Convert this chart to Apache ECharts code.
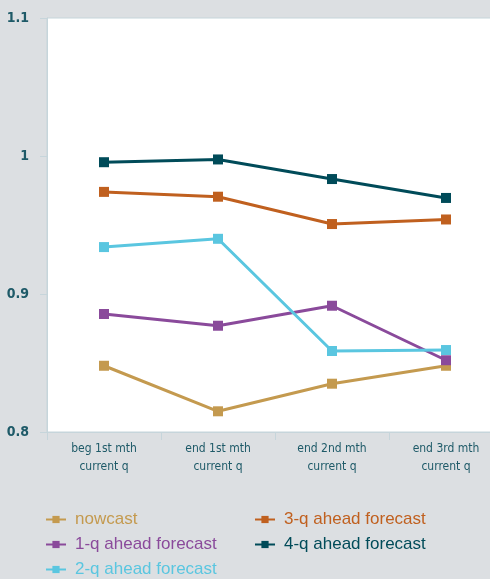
<!DOCTYPE html>
<html><head><meta charset="utf-8">
<script src="https://cdn.jsdelivr.net/npm/echarts@6/dist/echarts.min.js"></script>
<style>html,body{margin:0;padding:0;background:#dcdfe2;}#c{width:490px;height:579px;}</style>
</head><body><div id="c"></div>
<script>
const categories = ['beg 1st mth\ncurrent q', 'end 1st mth\ncurrent q', 'end 2nd mth\ncurrent q', 'end 3rd mth\ncurrent q'];
const nowcast = [0.848, 0.815, 0.835, 0.848];
const ahead1q = [0.8855, 0.877, 0.8915, 0.852];
const ahead2q = [0.934, 0.940, 0.8587, 0.8594];
const ahead3q = [0.974, 0.9705, 0.9507, 0.954];
const ahead4q = [0.9955, 0.9975, 0.9833, 0.9696];
const yTicks = [0.8, 0.9, 1.0, 1.1];

const names = ['nowcast', '1-q ahead forecast', '2-q ahead forecast', '3-q ahead forecast', '4-q ahead forecast'];
const colors = ['#c49a4f', '#8a4a9b', '#5ac6e0', '#c0601f', '#004b59'];
const datas = [nowcast, ahead1q, ahead2q, ahead3q, ahead4q];
const legendPos = [[45, 511], [45, 536], [45, 561], [254, 511], [254, 536]];

const chart = echarts.init(document.getElementById('c'));
chart.setOption({
  backgroundColor: '#dcdfe2',
  animation: false,
  grid: {left: 47, top: 18, width: 456, height: 414, outerBoundsMode: 'none', containLabel: false,
    show: true, backgroundColor: '#ffffff', borderColor: '#c6d5db', borderWidth: 1},
  legend: names.map((n, i) => ({
    left: legendPos[i][0], top: legendPos[i][1], padding: 0,
    itemWidth: 20, itemHeight: 9, selectedMode: false,
    textStyle: {fontFamily: 'Liberation Sans, Arial, sans-serif', fontSize: 17, color: colors[i], padding: [0, 0, 0, 4]},
    data: [{name: n}]
  })),
  xAxis: {
    type: 'category', data: categories, boundaryGap: true,
    axisLine: {lineStyle: {color: '#c6d5db', width: 1}},
    axisTick: {show: true, length: 8, lineStyle: {color: '#c6d5db'}},
    axisLabel: {color: '#1e5a68', fontSize: 12, lineHeight: 18, margin: 8, fontFamily: 'Liberation Sans Narrow, DejaVu Sans Condensed, sans-serif'}
  },
  yAxis: {
    type: 'value', min: 0.8, max: 1.1, interval: 0.1,
    axisLine: {show: true, lineStyle: {color: '#c6d5db', width: 1}},
    axisTick: {show: true, length: 7, lineStyle: {color: '#c6d5db'}},
    splitLine: {show: false},
    axisLabel: {color: '#1e5a68', fontSize: 14, fontWeight: 'bold', margin: 18, fontFamily: 'Liberation Sans Narrow, DejaVu Sans Condensed, sans-serif',
      formatter: v => { const t = yTicks.find(x => Math.abs(x - v) < 1e-6); return t === undefined ? '' : String(+t.toFixed(1)); }}
  },
  series: datas.map((d, i) => ({
    name: names[i], type: 'line', data: d, symbol: 'rect', symbolSize: 10,
    lineStyle: {color: colors[i], width: 3}, itemStyle: {color: colors[i]}, z: 2 + i
  }))
});
</script></body></html>
